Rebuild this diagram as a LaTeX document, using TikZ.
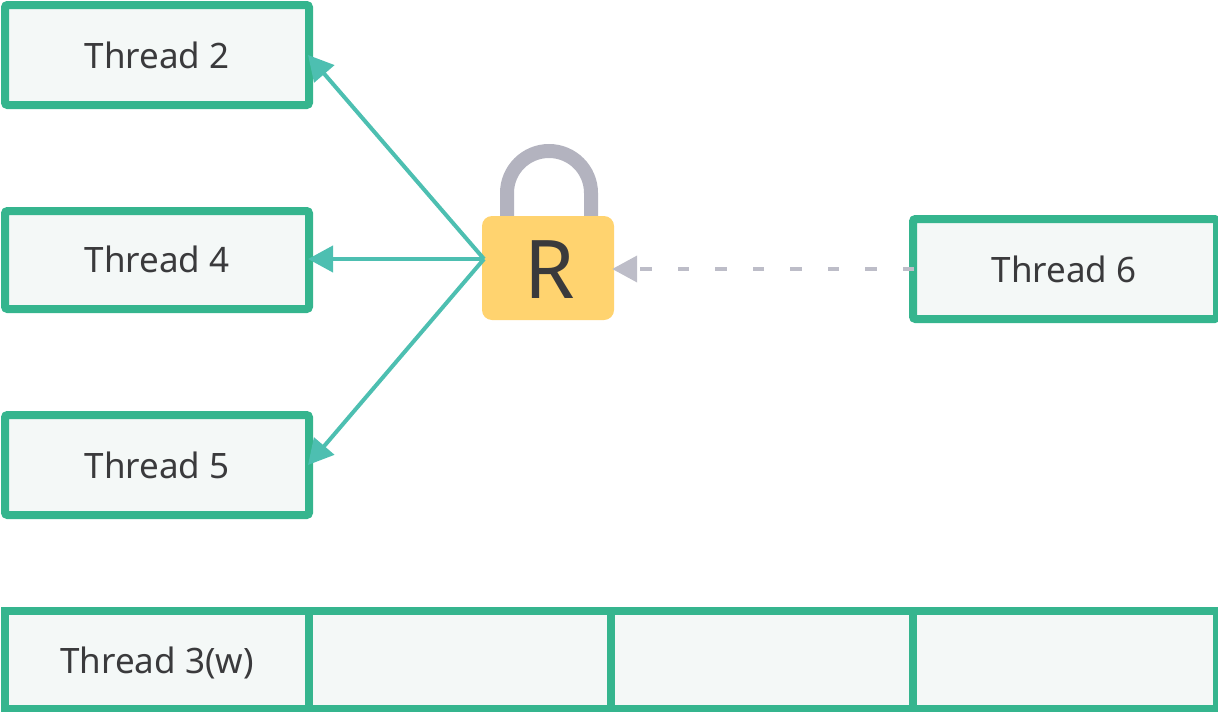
\documentclass[tikz,border=0pt]{standalone}
\usepackage{fontspec}
\setmainfont{Noto Sans}
\usetikzlibrary{arrows.meta}
\definecolor{boxline}{HTML}{35B58E}
\definecolor{boxfill}{HTML}{F4F8F7}
\definecolor{arrowc}{HTML}{4DBFB1}
\definecolor{txt}{HTML}{3A3A3C}
\definecolor{lockbody}{HTML}{FFD36F}
\definecolor{shackle}{HTML}{B3B3BF}
\definecolor{waitc}{HTML}{BDBDC8}
\tikzset{
  threadbox/.style={draw=boxline,fill=boxfill,line width=8pt,rounded corners=2.5pt,inner sep=0pt,
    minimum width=304pt,minimum height=100pt,text=txt,font=\fontsize{35}{40}\selectfont,
    text height=26pt,text depth=0pt},
  cellbox/.style={threadbox,rounded corners=0pt,minimum height=98pt},
  readarrow/.style={draw=arrowc,line width=4pt,-{Triangle[length=25pt,width=26pt,fill=arrowc]}},
  waitarrow/.style={draw=waitc,line width=4pt,dash pattern=on 11.5pt off 26pt,
    -{Triangle[length=25pt,width=26pt,fill=waitc]}},
}
\begin{document}
\begin{tikzpicture}[x=1pt,y=-1pt]
\useasboundingbox (0,0) rectangle (1218,712);
% bottom queue
\node[cellbox] (q1) at (157,660) {Thread 3(w)};
\node[cellbox,minimum width=302pt] (q2) at (460,660) {};
\node[cellbox,minimum width=302pt] (q3) at (762,660) {};
\node[cellbox] (q4) at (1065,660) {};
% threads
\node[threadbox] (t2) at (157,55) {Thread 2};
\node[threadbox,minimum height=98pt] (t4) at (157,260) {\raisebox{1pt}{Thread 4}};
\node[threadbox] (t5) at (157,465) {Thread 5};
\node[threadbox] (t6) at (1065,269) {\hspace*{-2pt}Thread 6};
% lock
\draw[shackle,line width=14pt] (507,218) -- (507,193) arc[start angle=180,end angle=0,radius=42pt] -- (591,218);
\node[fill=lockbody,rounded corners=10pt,minimum width=132pt,minimum height=104pt,inner sep=0pt,
  text=txt,font=\fontsize{81}{90}\selectfont,text height=60pt,text depth=0pt] (lock) at (548,268) {\hspace*{4pt}R};
\coordinate (lockleft) at (484,259);
% connectors
\draw[readarrow] (lockleft) -- ([xshift=-5pt]t2.east);
\draw[readarrow] (lockleft) -- ([xshift=-5pt]lockleft -| t4.east);
\draw[readarrow] (lockleft) -- ([xshift=-5pt]t5.east);
\draw[waitarrow] ([xshift=5pt]t6.west) -- ([xshift=-2pt]lock.east |- t6.west);
\end{tikzpicture}
\end{document}
